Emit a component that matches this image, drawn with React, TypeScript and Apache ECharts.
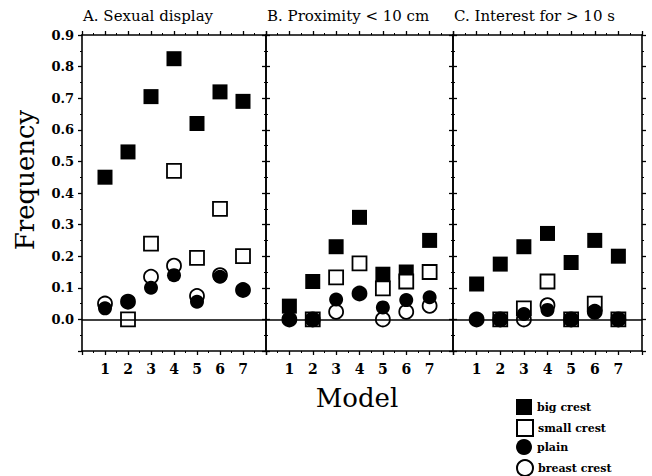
import React, { useEffect, useRef } from "react";
import * as echarts from "echarts";

const models = [1, 2, 3, 4, 5, 6, 7];
const xTickLabels = ["1", "2", "3", "4", "5", "6", "7"];
const panelTitles = ["A. Sexual display", "B. Proximity < 10 cm", "C. Interest for > 10 s"];
const seriesNames = ["big crest", "small crest", "plain", "breast crest"];

// Panel A: Sexual display
const bigA = [0.45, 0.53, 0.705, 0.825, 0.62, 0.72, 0.69];
const smallA = [null, 0.0, 0.24, 0.47, 0.195, 0.35, 0.2];
const plainA = [0.035, 0.056, 0.1, 0.14, 0.056, 0.135, 0.093];
const breastA = [0.05, 0.056, 0.135, 0.17, 0.074, 0.14, 0.093];

// Panel B: Proximity < 10 cm
const bigB = [0.042, 0.12, 0.23, 0.323, 0.143, 0.15, 0.25];
const smallB = [null, 0.0, 0.133, 0.177, 0.098, 0.12, 0.15];
const plainB = [0.0, 0.0, 0.063, 0.082, 0.038, 0.061, 0.07];
const breastB = [0.0, 0.0, 0.024, 0.082, 0.0, 0.024, 0.043];

// Panel C: Interest for > 10 s
const bigC = [0.112, 0.175, 0.23, 0.272, 0.18, 0.25, 0.2];
const smallC = [null, 0.0, 0.035, 0.12, 0.0, 0.05, 0.0];
const plainC = [0.0, 0.0, 0.017, 0.03, 0.0, 0.024, 0.0];
const breastC = [0.0, 0.0, 0.0, 0.045, 0.0, 0.024, 0.0];

const panels = [
  { big: bigA, small: smallA, plain: plainA, breast: breastA },
  { big: bigB, small: smallB, plain: plainB, breast: breastB },
  { big: bigC, small: smallC, plain: plainC, breast: breastC },
];

const FONT = "DejaVu Serif";

export default function App() {
  const ref = useRef<HTMLDivElement>(null);
  useEffect(() => {
    document.body.style.margin = "0";
    if (!ref.current) return;
    const chart = echarts.init(ref.current, null, { renderer: "svg" });

    const gridDefs = [
      { left: 82, width: 184 },
      { left: 266, width: 187 },
      { left: 453, width: 189 },
    ];
    const lineStyle = { color: "#000", width: 1.6 };
    const grids = gridDefs.map((g) => ({ left: g.left, width: g.width, top: 35, height: 316 }));

    const xAxes: any[] = [];
    const yAxes: any[] = [];
    gridDefs.forEach((_, i) => {
      ["bottom", "top"].forEach((pos) => {
        xAxes.push({
          gridIndex: i,
          type: "value",
          position: pos,
          min: 0,
          max: 8,
          interval: 1,
          axisLine: { show: true, onZero: false, lineStyle },
          axisTick: { show: true, length: 4, lineStyle: { color: "#000", width: 1.3 } },
          minorTick: { show: true, splitNumber: 2, length: 2, lineStyle: { color: "#000", width: 1 } },
          splitLine: { show: false },
          axisLabel: {
            show: pos === "bottom",
            margin: 11,
            fontFamily: FONT,
            fontWeight: "bold",
            fontSize: 14,
            color: "#000",
            formatter: (v: number) => {
              const k = Math.round(v);
              return k >= 1 && k <= 7 ? xTickLabels[k - 1] : "";
            },
          },
        });
      });
      ["left", "right"].forEach((pos) => {
        yAxes.push({
          gridIndex: i,
          type: "value",
          position: pos,
          min: -0.1,
          max: 0.9,
          interval: 0.1,
          axisLine: { show: true, onZero: false, lineStyle },
          axisTick: { show: true, length: 4, lineStyle: { color: "#000", width: 1.3 } },
          minorTick: { show: true, splitNumber: 2, length: 2, lineStyle: { color: "#000", width: 1 } },
          splitLine: { show: false },
          axisLabel: {
            show: i === 0 && pos === "left",
            margin: 8,
            fontFamily: FONT,
            fontWeight: "bold",
            fontSize: 13,
            color: "#000",
            formatter: (v: number) => (v < -0.05 ? "" : (Math.round(v * 10) / 10).toFixed(1)),
          },
        });
      });
    });

    const toData = (arr: (number | null)[]) =>
      models.map((m, k) => [m, arr[k]]).filter((d) => d[1] !== null);

    const series: any[] = [];
    panels.forEach((p, i) => {
      const common = { type: "scatter", xAxisIndex: 2 * i, yAxisIndex: 2 * i };
      series.push({
        ...common,
        name: "big crest",
        symbol: "rect",
        symbolSize: 15,
        itemStyle: { color: "#000", opacity: 1 },
        data: toData(p.big),
        markLine: {
          silent: true,
          symbol: "none",
          label: { show: false },
          lineStyle: { color: "#000", width: 1.5, type: "solid", opacity: 1 },
          data: [{ yAxis: 0 }],
        },
      });
      series.push({
        ...common,
        name: "small crest",
        symbol: "rect",
        symbolSize: 14,
        itemStyle: { color: "#fff", borderColor: "#000", borderWidth: 1.8, opacity: 1 },
        data: toData(p.small),
      });
      series.push({
        ...common,
        name: "breast crest",
        symbol: "circle",
        symbolSize: 14,
        itemStyle: { color: "#fff", borderColor: "#000", borderWidth: 1.8, opacity: 1 },
        data: toData(p.breast),
      });
      series.push({
        ...common,
        name: "plain",
        symbol: "circle",
        symbolSize: 14,
        itemStyle: { color: "#000", opacity: 1 },
        data: toData(p.plain),
      });
    });

    chart.setOption({
      animation: false,
      backgroundColor: "#fff",
      title: panelTitles.map((t, i) => ({
        text: t,
        left: gridDefs[i].left + 1,
        top: 8,
        padding: 0,
        textStyle: { fontFamily: FONT, fontSize: 15, fontWeight: "normal", color: "#000" },
      })),
      grid: grids,
      xAxis: xAxes,
      yAxis: yAxes,
      legend: seriesNames.map((n, k) => ({
        orient: "vertical",
        left: 516,
        top: 399 + k * 20,
        padding: 0,
        itemWidth: 16,
        itemHeight: 16,
        selectedMode: false,
        data: [n],
        textStyle: { fontFamily: FONT, fontSize: 11, fontWeight: "bold", color: "#000" },
      })),
      graphic: [
        {
          type: "text",
          x: 25,
          y: 180,
          rotation: Math.PI / 2,
          style: {
            text: "Frequency",
            fontFamily: FONT,
            fontSize: 26,
            fill: "#000",
            align: "center",
            verticalAlign: "middle",
          },
        },
        {
          type: "text",
          x: 357,
          y: 398,
          style: {
            text: "Model",
            fontFamily: FONT,
            fontSize: 26,
            fill: "#000",
            align: "center",
            verticalAlign: "middle",
          },
        },
      ],
      series,
    });

    return () => chart.dispose();
  }, []);

  return <div ref={ref} style={{ width: 652, height: 476 }} />;
}
